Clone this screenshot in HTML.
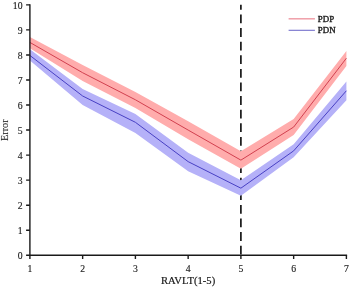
<!DOCTYPE html>
<html><head><meta charset="utf-8"><style>
html,body{margin:0;padding:0;background:#fff;}
svg{display:block;filter:blur(0.3px);}
text{font-family:"Liberation Serif","Times New Roman",serif;font-size:10px;fill:#1a1a1a;stroke:#1a1a1a;stroke-width:0.2px;}
</style></head><body>
<svg width="350" height="288" viewBox="0 0 350 288">
<line x1="240.90" y1="254.5" x2="240.90" y2="4.85" stroke="#000" stroke-width="1.55" stroke-dasharray="8.8 4.8"/>
<polygon points="29.90,36.91 82.65,64.96 135.40,92.01 188.15,121.31 240.90,151.36 293.65,119.06 346.40,50.93 346.40,65.96 293.65,135.08 240.90,168.64 188.15,139.34 135.40,108.04 82.65,80.99 29.90,48.18" fill="#ffacac"/>
<polygon points="29.90,49.18 82.65,89.00 135.40,114.05 188.15,152.87 240.90,180.17 293.65,144.35 346.40,81.49 346.40,100.27 293.65,157.37 240.90,195.69 188.15,171.15 135.40,133.08 82.65,105.03 29.90,60.45" fill="#b5b1f8"/>
<polyline points="29.90,42.42 82.65,72.72 135.40,99.77 188.15,130.07 240.90,160.13 293.65,127.07 346.40,58.20" fill="none" stroke="#d2404f" stroke-width="1.0" stroke-linejoin="round"/>
<polyline points="29.90,55.44 82.65,96.01 135.40,122.31 188.15,161.63 240.90,188.18 293.65,150.86 346.40,90.75" fill="none" stroke="#4840c4" stroke-width="1.0" stroke-linejoin="round"/>
<path d="M29.90,4.15V255.30H347.10" fill="none" stroke="#1a1a1a" stroke-width="1.4" stroke-linejoin="miter"/>
<path d="M26.10,255.30H29.90M26.10,230.25H29.90M26.10,205.21H29.90M26.10,180.17H29.90M26.10,155.12H29.90M26.10,130.07H29.90M26.10,105.03H29.90M26.10,79.99H29.90M26.10,54.94H29.90M26.10,29.89H29.90M26.10,4.85H29.90M29.90,255.30V259.00M82.65,255.30V259.00M135.40,255.30V259.00M188.15,255.30V259.00M240.90,255.30V259.00M293.65,255.30V259.00M346.40,255.30V259.00" stroke="#1a1a1a" stroke-width="1.4" fill="none"/>
<text transform="translate(22.50,259.10) scale(0.9,1)" text-anchor="end" style="font-size:10.8px;stroke-width:0.15px">0</text>
<text transform="translate(22.50,234.06) scale(0.9,1)" text-anchor="end" style="font-size:10.8px;stroke-width:0.15px">1</text>
<text transform="translate(22.50,209.01) scale(0.9,1)" text-anchor="end" style="font-size:10.8px;stroke-width:0.15px">2</text>
<text transform="translate(22.50,183.97) scale(0.9,1)" text-anchor="end" style="font-size:10.8px;stroke-width:0.15px">3</text>
<text transform="translate(22.50,158.92) scale(0.9,1)" text-anchor="end" style="font-size:10.8px;stroke-width:0.15px">4</text>
<text transform="translate(22.50,133.88) scale(0.9,1)" text-anchor="end" style="font-size:10.8px;stroke-width:0.15px">5</text>
<text transform="translate(22.50,108.83) scale(0.9,1)" text-anchor="end" style="font-size:10.8px;stroke-width:0.15px">6</text>
<text transform="translate(22.50,83.79) scale(0.9,1)" text-anchor="end" style="font-size:10.8px;stroke-width:0.15px">7</text>
<text transform="translate(22.50,58.74) scale(0.9,1)" text-anchor="end" style="font-size:10.8px;stroke-width:0.15px">8</text>
<text transform="translate(22.50,33.69) scale(0.9,1)" text-anchor="end" style="font-size:10.8px;stroke-width:0.15px">9</text>
<text transform="translate(22.50,8.65) scale(0.9,1)" text-anchor="end" style="font-size:10.8px;stroke-width:0.15px">10</text>
<text transform="translate(29.90,271.80) scale(0.9,1)" text-anchor="middle" style="font-size:10.8px;stroke-width:0.15px">1</text>
<text transform="translate(82.65,271.80) scale(0.9,1)" text-anchor="middle" style="font-size:10.8px;stroke-width:0.15px">2</text>
<text transform="translate(135.40,271.80) scale(0.9,1)" text-anchor="middle" style="font-size:10.8px;stroke-width:0.15px">3</text>
<text transform="translate(188.15,271.80) scale(0.9,1)" text-anchor="middle" style="font-size:10.8px;stroke-width:0.15px">4</text>
<text transform="translate(240.90,271.80) scale(0.9,1)" text-anchor="middle" style="font-size:10.8px;stroke-width:0.15px">5</text>
<text transform="translate(293.65,271.80) scale(0.9,1)" text-anchor="middle" style="font-size:10.8px;stroke-width:0.15px">6</text>
<text transform="translate(346.40,271.80) scale(0.9,1)" text-anchor="middle" style="font-size:10.8px;stroke-width:0.15px">7</text>
<text transform="translate(188.1,284.4) scale(1.02,1)" text-anchor="middle" style="font-size:10.4px">RAVLT(1-5)</text>
<text transform="translate(7.7,130.2) rotate(-90)" text-anchor="middle" style="font-size:10.2px;stroke-width:0.1px">Error</text>
<line x1="288.6" y1="18.85" x2="314.9" y2="18.85" stroke="#ea7c88" stroke-width="1.1"/>
<line x1="288.6" y1="30.3" x2="314.9" y2="30.3" stroke="#7470cc" stroke-width="1.1"/>
<text x="317.8" y="22.2" style="font-size:8.9px;stroke-width:0.35px">PDP</text>
<text x="317.8" y="32.8" style="font-size:8.9px;stroke-width:0.35px">PDN</text>
</svg>
</body></html>
